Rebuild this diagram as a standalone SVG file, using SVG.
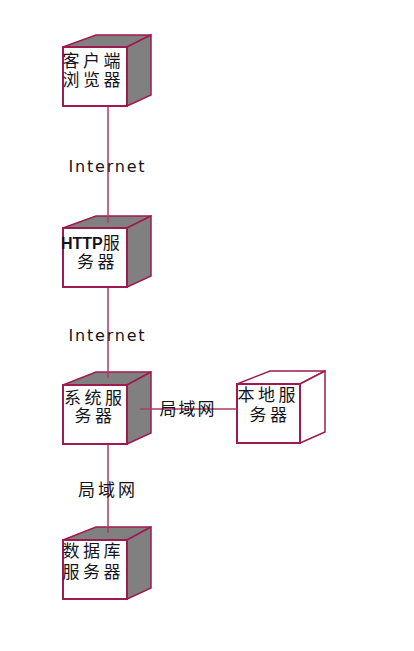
<svg xmlns="http://www.w3.org/2000/svg" width="414" height="651" viewBox="0 0 414 651">
<style>
.side{fill:#808080;stroke:#9E1B4F;stroke-width:1.5;stroke-linejoin:miter}
.side.w{fill:#ffffff}
.front{fill:#ffffff;stroke:#9E1B4F;stroke-width:2}
.cn{stroke:#B03A64;stroke-width:1.5;fill:none}
.t{font-family:"Noto Sans CJK SC","Noto Sans CJK JP",sans-serif;font-size:17px;fill:#141420;letter-spacing:3.5px}
.en{font-family:"DejaVu Sans",sans-serif;font-size:16px;fill:#141420;letter-spacing:1.8px}
.b{font-family:"Liberation Sans",Arial,sans-serif;font-weight:bold;font-size:16px;letter-spacing:0}
</style>
<rect width="414" height="651" fill="#ffffff"/>
<g id="node-client">
<polygon class="side" points="63,47 96,35 151,35 127,47"/>
<polygon class="side" points="127,47 151,35 151,95 127,106"/>
<rect class="front" x="63" y="47" width="64" height="59"/>
<text class="t" x="62.5" y="67">客户端</text>
<text class="t" x="62.5" y="86">浏览器</text>
</g>
<g id="node-http">
<polygon class="side" points="63,228 96,216 151,216 127,228"/>
<polygon class="side" points="127,228 151,216 151,276 127,287"/>
<rect class="front" x="63" y="228" width="64" height="59"/>
<text class="t" x="61" y="249"><tspan class="b">HTTP</tspan><tspan>服</tspan></text>
<text class="t" x="77" y="268">务器</text>
</g>
<g id="node-system">
<polygon class="side" points="63,385 96,372 151,372 127,385"/>
<polygon class="side" points="127,385 151,372 151,433 127,444"/>
<rect class="front" x="63" y="385" width="64" height="59"/>
<text class="t" x="64" y="404">系统服</text>
<text class="t" x="74.5" y="422">务器</text>
</g>
<g id="node-local">
<polygon class="side w" points="237,384 270,371 325,371 300,384"/>
<polygon class="side w" points="300,384 325,371 325,432 300,443"/>
<rect class="front" x="237" y="384" width="63" height="59"/>
<text class="t" x="237.5" y="401">本地服</text>
<text class="t" x="249.5" y="421">务器</text>
</g>
<g id="node-db">
<polygon class="side" points="63,540 96,527 151,527 127,540"/>
<polygon class="side" points="127,540 151,527 151,588 127,599"/>
<rect class="front" x="63" y="540" width="64" height="59"/>
<text class="t" x="62.5" y="557">数据库</text>
<text class="t" x="62.5" y="578">服务器</text>
</g>
<g id="connectors">
<line class="cn" x1="108" y1="107" x2="108" y2="223"/>
<line class="cn" x1="108" y1="288" x2="108" y2="378"/>
<line class="cn" x1="108" y1="445" x2="108" y2="533"/>
<line class="cn" x1="140" y1="409" x2="237" y2="409"/>
</g>
<g id="labels">
<text class="en" x="68.5" y="172">Internet</text>
<text class="en" x="68.5" y="341">Internet</text>
<text class="t" x="159.5" y="415" style="letter-spacing:2px">局域网</text>
<text class="t" x="78" y="496" style="letter-spacing:3px">局域网</text>
</g>
</svg>
